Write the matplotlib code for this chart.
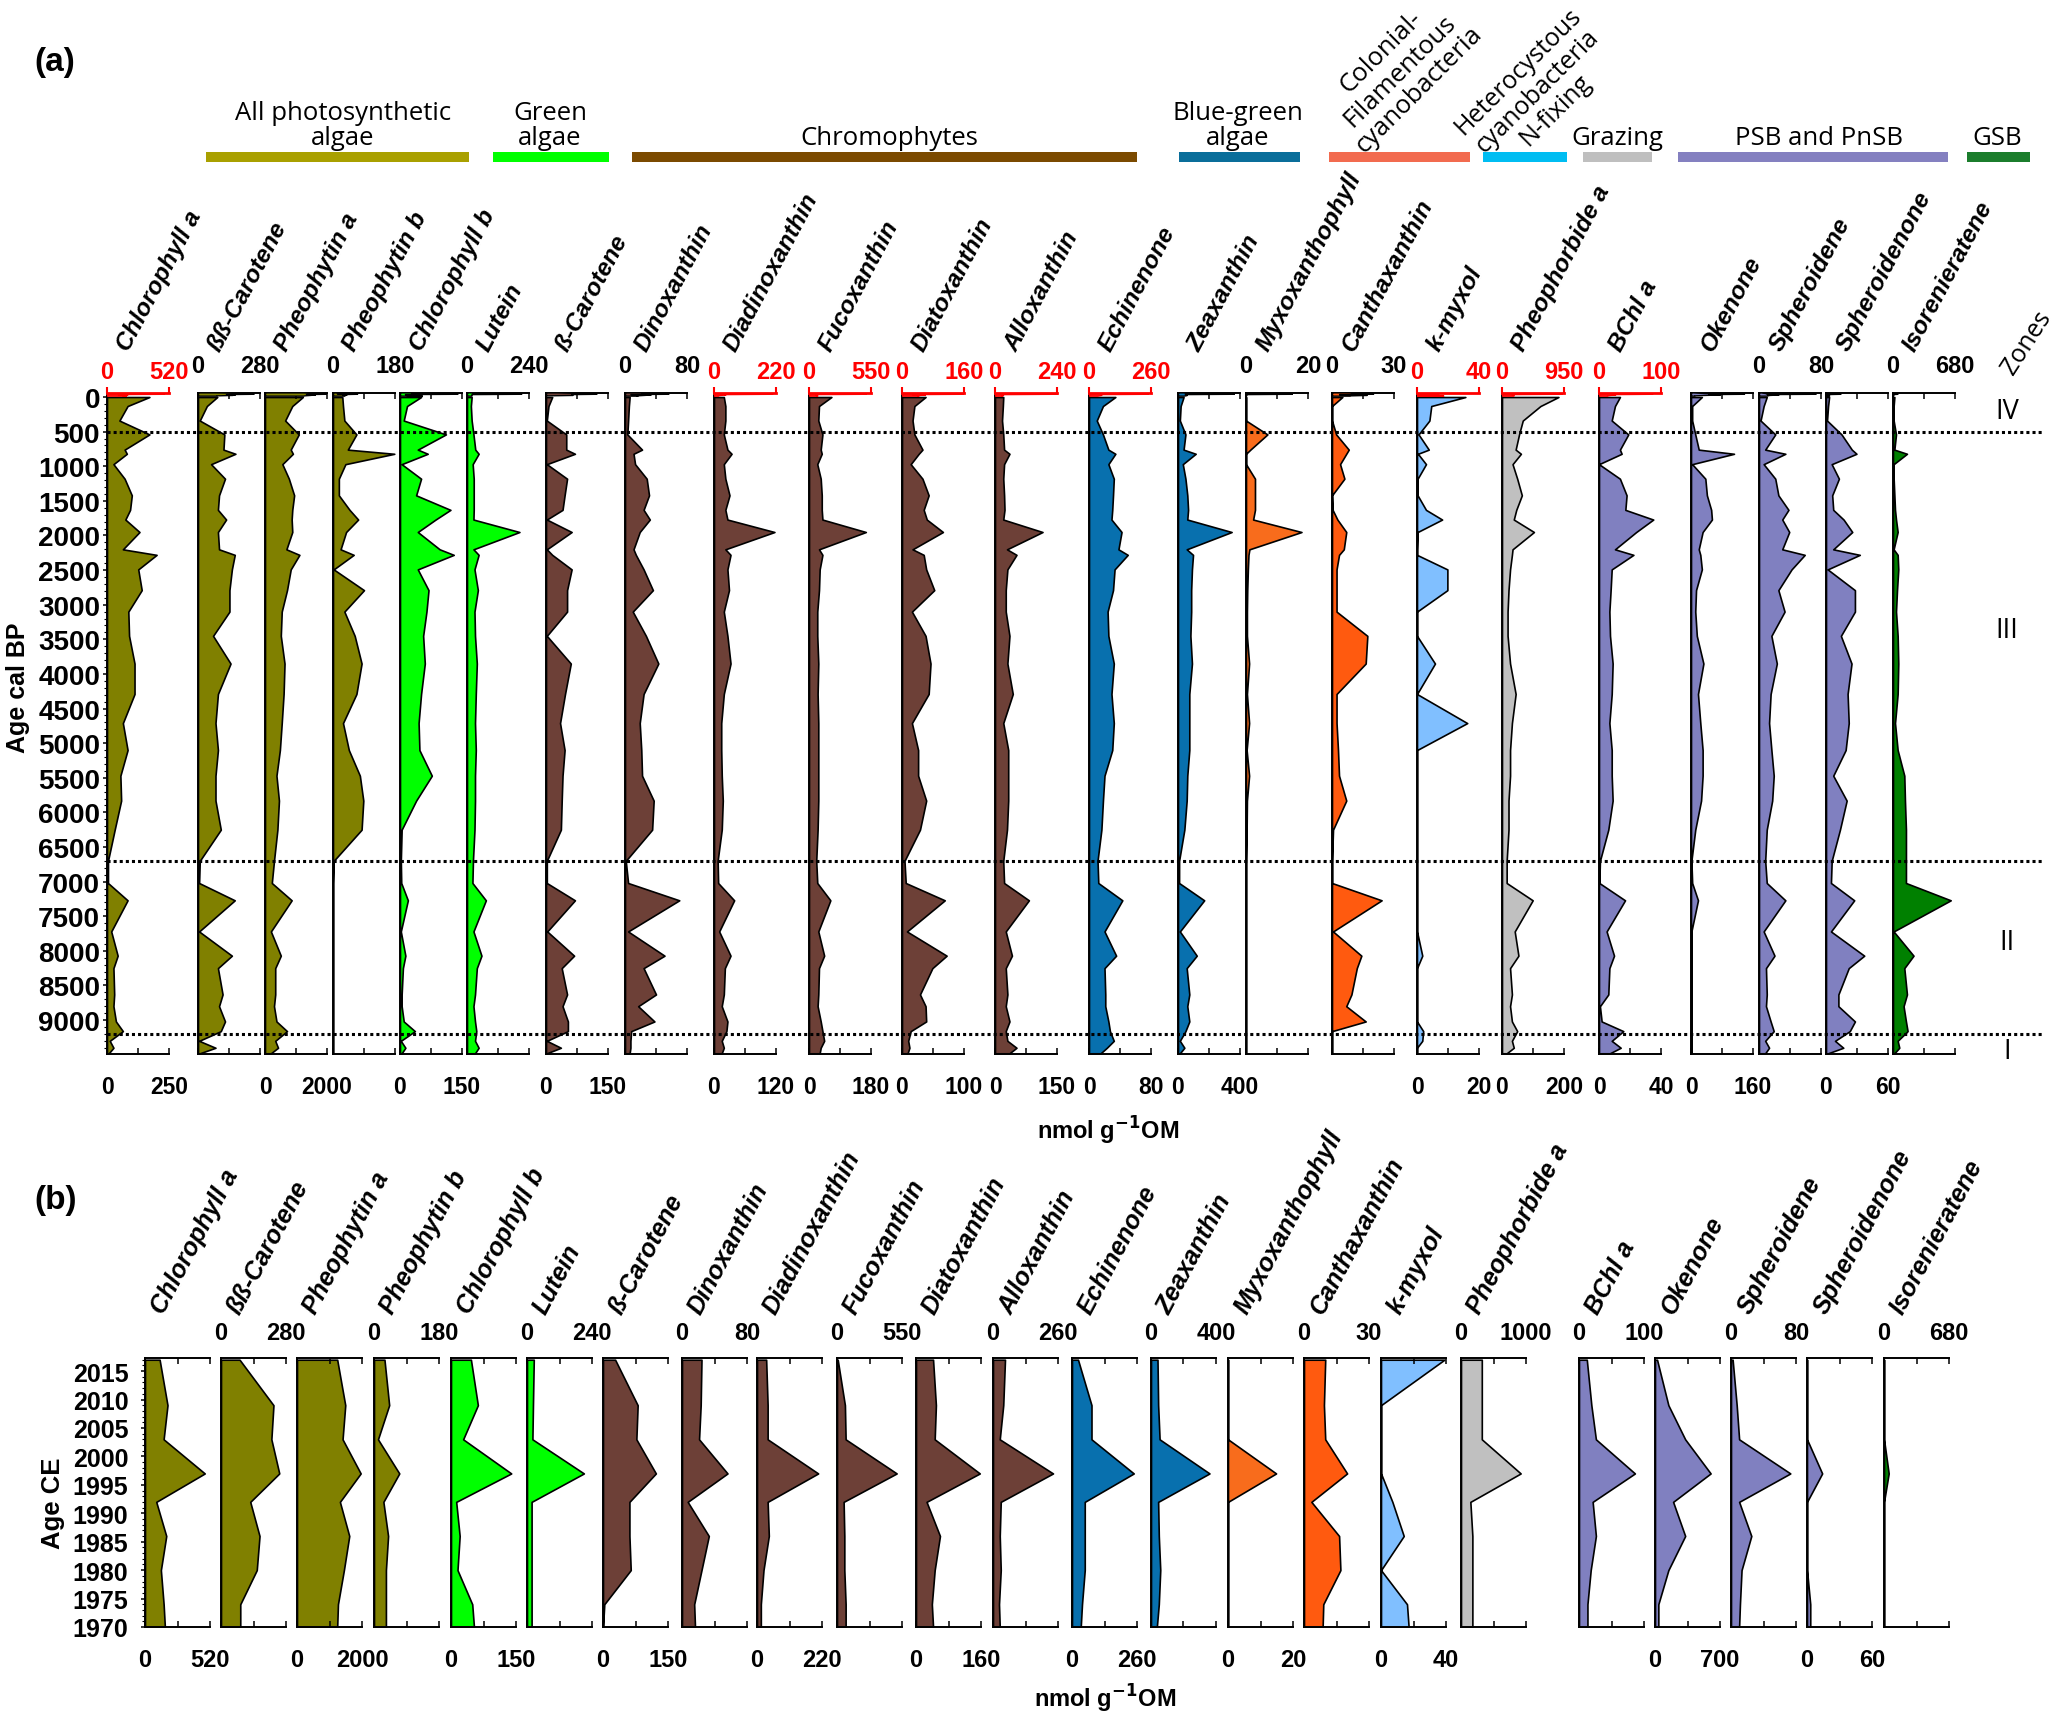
import matplotlib
matplotlib.use("Agg")
import matplotlib.pyplot as plt
import matplotlib.transforms as mtransforms
from matplotlib.lines import Line2D
from matplotlib.patches import Rectangle
from matplotlib.ticker import MultipleLocator

plt.rcParams['font.family'] = ['Liberation Sans', 'DejaVu Sans']
plt.rcParams['axes.linewidth'] = 1.4

# ---------------- (a) Holocene record, nmol g-1 OM ----------------
ages_bp = [0, 130, 340, 540, 760, 820, 970, 1180, 1420, 1630, 1770, 1950, 2200, 2280,
           2490, 2790, 3100, 3450, 3850, 4290, 4710, 5100, 5470, 5830, 6250, 6700,
           7020, 7270, 7720, 8070, 8250, 8630, 8800, 9020, 9160, 9300, 9400, 9480]

a_chl_a = [171, 83, 50, 171, 71, 80, 26, 71, 100, 93, 74, 131, 64, 200, 126, 140, 86, 89, 111,
           111, 64, 83, 54, 57, 31, 4, 4, 83, 17, 43, 26, 29, 26, 36, 64, 11, 26, 7]
a_bb_car = [87, 40, 8, 119, 115, 169, 59, 122, 95, 90, 127, 90, 95, 166, 153, 142, 142, 68, 147,
            90, 79, 90, 79, 79, 103, 8, 5, 166, 5, 153, 90, 111, 95, 122, 103, 5, 79, 8]
a_pheo_a = [1220, 880, 650, 1090, 830, 900, 560, 770, 940, 880, 860, 880, 690, 1110, 830, 710,
            540, 510, 630, 600, 540, 480, 370, 450, 400, 290, 220, 860, 190, 510, 330, 330,
            290, 370, 710, 330, 420, 190]
a_pheo_b = [27, 29, 33, 68, 43, 178, 36, 17, 17, 48, 73, 38, 22, 60, 2, 90, 33, 63, 83, 68, 29,
            46, 78, 88, 83, 2, 0, 0, 0, 0, 0, 0, 0, 0, 0, 0, 0, 0]
a_chl_b = [51, 17, 9, 111, 43, 67, 4, 51, 39, 122, 86, 43, 96, 130, 43, 69, 64, 56, 60, 51, 45,
           47, 77, 39, 4, 2, 3, 19, 2, 13, 7, 4, 4, 9, 36, 2, 13, 4]
a_lutein = [18, 15, 18, 25, 32, 45, 22, 26, 26, 26, 25, 203, 25, 45, 29, 42, 29, 31, 38, 34, 31,
            34, 31, 31, 29, 23, 21, 73, 25, 56, 38, 31, 25, 31, 36, 31, 45, 31]
a_b_car = [15, 6, 2, 49, 49, 70, 2, 51, 45, 40, 2, 62, 2, 15, 62, 51, 51, 2, 60, 46, 34, 45, 40,
           38, 36, 2, 2, 70, 3, 68, 38, 51, 40, 53, 53, 2, 36, 2]
a_dinox = [6, 5, 4, 3, 22, 11, 13, 28, 31, 24, 32, 19, 11, 14, 24, 36, 10, 27, 43, 24, 19, 21,
           22, 37, 35, 1, 4, 70, 4, 51, 24, 40, 17, 38, 8, 7, 7, 6]
a_diadino = [19, 22, 22, 19, 26, 34, 19, 22, 30, 22, 26, 117, 22, 32, 26, 29, 19, 26, 32, 19,
             14, 14, 15, 17, 15, 7, 8, 39, 10, 32, 21, 19, 15, 26, 24, 15, 19, 15]
a_fuco = [65, 29, 27, 39, 34, 37, 24, 34, 37, 37, 39, 165, 29, 39, 31, 29, 24, 24, 27, 25, 27,
          27, 27, 27, 25, 21, 24, 62, 27, 44, 29, 27, 25, 34, 39, 44, 34, 31]
a_diato = [38, 20, 17, 20, 33, 27, 14, 33, 43, 35, 40, 66, 17, 35, 39, 52, 16, 38, 46, 43, 16,
           26, 26, 39, 29, 4, 6, 69, 8, 72, 49, 29, 38, 39, 14, 10, 12, 9]
a_allox = [20, 19, 17, 20, 22, 35, 22, 20, 22, 23, 20, 115, 29, 52, 30, 26, 26, 35, 30, 43, 20,
           32, 32, 32, 29, 20, 22, 82, 26, 41, 26, 30, 26, 35, 26, 30, 52, 35]
a_echin = [34, 18, 10, 18, 25, 34, 25, 32, 31, 30, 29, 42, 38, 50, 33, 31, 24, 25, 32, 29, 32,
           30, 20, 18, 16, 11, 12, 43, 20, 35, 20, 21, 21, 25, 27, 32, 23, 15]
a_zeax = [36, 17, 12, 48, 36, 114, 31, 48, 60, 65, 60, 346, 56, 97, 90, 85, 85, 80, 90, 73, 73,
          73, 60, 56, 41, 7, 7, 169, 12, 121, 56, 73, 60, 73, 48, 12, 41, 12]
a_myxo = [0, 0, 0, 6.9, 1.4, 0, 0, 2.9, 2.9, 2.9, 2.3, 17.9, 1.1, 0.8, 0.6, 0.4, 0.3, 0.3, 1.0,
          0.3, 1.0, 0.2, 1.0, 0.3, 0.2, 0, 0, 0, 0, 0, 0, 0, 0, 0, 0, 0, 0, 0]
a_cantha = [5, 0, 0, 2, 8.1, 6.9, 3.9, 6.0, 0, 0.3, 2.6, 6.9, 5.7, 3.4, 2.2, 2.2, 2.2, 17.1,
            16.3, 2.2, 2.2, 2.9, 3.4, 6.9, 0.5, 0, 0, 24, 0.5, 14.2, 12, 9.4, 6.9, 16.3, 0, 0, 0, 0]
a_kmyxol = [15.6, 4.6, 4, 0.5, 3.8, 0.3, 2.9, 0.2, 0.2, 2.9, 8.1, 0.2, 0, 0, 9.8, 9.8, 0, 0, 5.8,
            0, 16.2, 0, 0, 0, 0, 0, 0, 0, 0, 1.7, 0, 0, 0, 0, 2, 1.7, 0, 0]
a_pheophorbide = [182, 124, 67, 55, 44, 61, 34, 49, 64, 46, 38, 103, 34, 32, 26, 21, 18, 18, 26,
                  44, 32, 26, 26, 21, 21, 15, 15, 99, 41, 53, 26, 32, 26, 32, 49, 32, 38, 15]
a_bchl_a = [13.5, 10.3, 8.2, 18.9, 13.5, 14.6, 0, 13.5, 17.8, 17, 35, 24, 10.3, 22.2, 8.2, 7.5,
            6.7, 7.1, 8.8, 8.2, 6.7, 8.2, 8.2, 8.8, 6, 0.6, 0.2, 16.8, 4.9, 9.7, 6.7, 6, 0.6,
            1.7, 15.7, 8.2, 14, 7]
a_okenone = [28, 3, 3, 11, 20, 111, 3, 37, 41, 52, 54, 30, 20, 24, 28, 13, 11, 15, 32, 18, 24,
             30, 30, 26, 11, 1, 3, 18, 1, 1, 1, 1, 1, 1, 1, 1, 1, 1]
a_spheroidene = [10, 6, 2, 21, 8, 34, 6, 21, 25, 38, 30, 39, 30, 59, 42, 25, 33, 16, 23, 15, 13,
                 16, 19, 17, 10, 8, 10, 34, 6, 20, 9, 10, 9, 15, 19, 8, 13, 8]
a_spheroidenone = [3, 2, 1, 15, 25, 29.5, 5.5, 12.5, 6, 7, 17, 25.4, 7, 32.7, 1.6, 28, 28, 14.4,
                   24.7, 20.9, 22, 19, 7, 20, 13.5, 5.5, 4.8, 27.3, 4.8, 37, 22, 12, 12, 28, 23,
                   8.7, 16.7, 2]
a_iso = [15, 7, 7, 33, 15, 153, 7, 7, 15, 22, 33, 51, 7, 51, 58, 44, 33, 51, 58, 51, 22, 51, 124,
         131, 142, 142, 142, 633, 7, 225, 124, 153, 116, 142, 160, 51, 69, 15]

# ---------------- (b) recent record, nmol g-1 OM ----------------
years_ce = [1970, 1974, 1980, 1986, 1992, 1997, 2003, 2009, 2017]

b_chl_a = [159, 149, 127, 170, 90, 478, 149, 180, 117]
b_bb_car = [83, 83, 154, 166, 126, 251, 217, 226, 80]
b_pheo_a = [1237, 1260, 1443, 1608, 1320, 1959, 1402, 1485, 1237]
b_pheo_b = [33, 33, 33, 39, 26, 70, 11, 42, 29]
b_chl_b = [53, 49, 15, 20, 12, 139, 28, 62, 46]
b_lutein = [17, 17, 17, 17, 17, 210, 20, 22, 25]
b_b_car = [0, 3, 64, 61, 61, 122, 77, 80, 28]
b_dinox = [16, 15, 24, 33, 7, 56, 21, 23, 24]
b_diadino = [13, 13, 22, 40, 36, 207, 36, 36, 31]
b_fuco = [73, 73, 62, 62, 56, 505, 73, 67, 6]
b_diato = [42, 39, 46, 59, 26, 157, 46, 49, 42]
b_allox = [27, 24, 31, 27, 31, 240, 27, 41, 48]
b_echin = [35, 40, 51, 51, 51, 247, 78, 78, 24]
b_zeax = [36, 48, 57, 48, 44, 360, 53, 44, 40]
b_myxo = [0, 0, 0, 0, 0, 14.8, 0, 0, 0]
b_cantha = [8.6, 8.9, 16.8, 16.2, 3.4, 19.9, 9.8, 9.2, 9.8]
b_kmyxol = [17, 16, 0, 14, 7, 0, 0, 0, 39]
b_pheophorbide = [175, 175, 175, 175, 144, 918, 320, 320, 320]
b_bchl_a = [13, 13, 18, 26, 21, 86, 26, 19, 12]
b_okenone = [36, 36, 144, 325, 195, 599, 325, 144, 22]
b_spheroidene = [10, 11, 13, 25, 10, 73, 10, 7, 2]
b_spheroidenone = [3, 3, 0, 0, 0, 14, 0, 0, 0]
b_iso = [0, 0, 0, 0, 0, 49, 0, 0, 0]

pigments = ['Chlorophyll a', 'ßß-Carotene', 'Pheophytin a', 'Pheophytin b', 'Chlorophyll b',
            'Lutein', 'ß-Carotene', 'Dinoxanthin', 'Diadinoxanthin', 'Fucoxanthin',
            'Diatoxanthin', 'Alloxanthin', 'Echinenone', 'Zeaxanthin', 'Myxoxanthophyll',
            'Canthaxanthin', 'k-myxol', 'Pheophorbide a', 'BChl a', 'Okenone', 'Spheroidene',
            'Spheroidenone', 'Isorenieratene']

# axis maxima and which side carries the numbers
a_scale = [250, 280, 2000, 180, 150, 240, 150, 80, 120, 180, 100, 150, 80, 400, 20, 30, 20, 200,
           40, 160, 80, 60, 680]
a_side = ['bottom', 'top', 'bottom', 'top', 'bottom', 'top', 'bottom', 'top', 'bottom', 'bottom',
          'bottom', 'bottom', 'bottom', 'bottom', 'top', 'top', 'bottom', 'bottom', 'bottom',
          'bottom', 'top', 'bottom', 'top']
a_red_scale = [520, None, None, None, None, None, None, None, 220, 550, 160, 240, 260, None, None,
               None, 40, 950, 100, None, None, None, None]
b_scale = [520, 280, 2000, 180, 150, 240, 150, 80, 220, 550, 160, 260, 260, 400, 20, 30, 40, 1000,
           100, 700, 80, 60, 680]
b_side = ['bottom', 'top', 'bottom', 'top', 'bottom', 'top', 'bottom', 'top', 'bottom', 'top',
          'bottom', 'top', 'bottom', 'top', 'bottom', 'top', 'bottom', 'top', 'top', 'bottom',
          'top', 'bottom', 'top']

a_values = [a_chl_a, a_bb_car, a_pheo_a, a_pheo_b, a_chl_b, a_lutein, a_b_car, a_dinox, a_diadino,
            a_fuco, a_diato, a_allox, a_echin, a_zeax, a_myxo, a_cantha, a_kmyxol, a_pheophorbide,
            a_bchl_a, a_okenone, a_spheroidene, a_spheroidenone, a_iso]
b_values = [b_chl_a, b_bb_car, b_pheo_a, b_pheo_b, b_chl_b, b_lutein, b_b_car, b_dinox, b_diadino,
            b_fuco, b_diato, b_allox, b_echin, b_zeax, b_myxo, b_cantha, b_kmyxol, b_pheophorbide,
            b_bchl_a, b_okenone, b_spheroidene, b_spheroidenone, b_iso]

# ---------------- styling ----------------
OLIVE, GREEN, BROWN, BLUE = '#808000', '#00ff00', '#6d4037', '#0870ae'
MYXO, CANTHA, KMYX, GREY, PURPLE, GSB = '#f86c1c', '#ff5a0f', '#80bfff', '#c0c0c0', '#8080c0', '#008000'
fills = [OLIVE] * 4 + [GREEN] * 2 + [BROWN] * 6 + [BLUE] * 2 + [MYXO, CANTHA, KMYX, GREY] + [PURPLE] * 4 + [GSB]
SANS2 = ['Open Sans', 'DejaVu Sans']

a_left = [107, 198, 265, 333, 400, 467, 546, 625, 714, 809, 902, 995, 1089, 1178, 1246, 1332, 1417,
          1502, 1599, 1691, 1759, 1826, 1893]
b_left = [145, 221, 297, 374, 451, 527, 603, 682, 757, 837, 916, 993, 1072, 1151, 1228, 1304, 1381,
          1461, 1579, 1655, 1731, 1807, 1884]

W, H = 2067, 1715
fig = plt.figure(figsize=(W / 100, H / 100), dpi=100)


def fx(x):
    return x / W


def fy(y):
    return 1 - y / H


def add_ax(left, top, bottom, width):
    return fig.add_axes([fx(left), fy(bottom), width / W, (bottom - top) / H])


def fmt(v):
    return f'{v:g}'


def set_scale(ax, vmax, side, size, pad, top_ticks=True):
    ax.set_xlim(0, vmax)
    ax.set_xticks([0, vmax / 2, vmax])
    ax.set_xticklabels(['0', '', fmt(vmax)], fontweight='bold')
    ax.tick_params(axis='x', direction='in', length=4, width=1.1, top=top_ticks, bottom=True,
                   labeltop=(side == 'top'), labelbottom=(side == 'bottom'),
                   labelsize=size, pad=pad)
    ax.spines['right'].set_visible(False)
    ax.set_facecolor('none')


# ---------------- panel (a) ----------------
a_top, a_bot = 393.6, 1055
axes_a = []
recent_ages = [1950 - y for y in years_ce]
for i in range(23):
    ax = add_ax(a_left[i], a_top, a_bot, 62)
    axt = ax.twiny()
    red = a_red_scale[i] is not None
    ax.fill_betweenx(ages_bp, 0, a_values[i], facecolor=fills[i], edgecolor='black', lw=1.2)
    ax.set_ylim(9490, -64)
    if a_side[i] == 'top':
        set_scale(ax, a_scale[i], 'top', 17, 11, top_ticks=True)
    else:
        set_scale(ax, a_scale[i], 'bottom', 16.5, 15, top_ticks=not red)
    if red:
        ax.spines['top'].set_visible(False)
    rmax = a_red_scale[i] if red else b_scale[i]
    axt.set_xlim(0, rmax)
    axt.set_ylim(9490, -64)
    if red:
        axt.fill_betweenx(recent_ages, 0, b_values[i], facecolor='#ff2020', edgecolor='red', lw=1)
        axt.set_xticks([0, rmax])
        axt.set_xticklabels(['0', fmt(rmax)], fontweight='bold')
        axt.tick_params(axis='x', colors='red', direction='out', length=4, width=1.5,
                        labelsize=17, pad=3)
        for s in ['left', 'right', 'bottom']:
            axt.spines[s].set_visible(False)
        axt.spines['top'].set_color('red')
        axt.spines['top'].set_linewidth(2)
    else:
        axt.fill_betweenx(recent_ages, 0, b_values[i], facecolor=fills[i], edgecolor='black', lw=1)
        axt.set_axis_off()
    if i == 0:
        ax.set_yticks(range(0, 9001, 500))
        ax.set_yticklabels([str(v) for v in range(0, 9001, 500)], fontweight='bold')
        ax.yaxis.set_minor_locator(MultipleLocator(100))
        ax.tick_params(axis='y', which='major', direction='out', length=3, width=1.1,
                       labelsize=20, pad=2)
        ax.tick_params(axis='y', which='minor', direction='out', length=2, width=0.8)
    else:
        ax.tick_params(axis='y', which='both', left=False, labelleft=False)
    axes_a.append(ax)

    fig.text(fx(a_left[i] + 22), fy(353), pigments[i], rotation=62, rotation_mode='anchor',
             ha='left', va='baseline', fontsize=17.5, fontweight='bold', fontstyle='italic')

# zone boundaries and labels
trans_a = mtransforms.blended_transform_factory(fig.transFigure, axes_a[0].transData)
for age in [500, 6700, 9200]:
    fig.add_artist(Line2D([fx(107), fx(2044)], [age, age], transform=trans_a, color='black',
                          lw=2.2, ls=(0, (1, 1)), zorder=10))
for lab, age in [('IV', 200), ('III', 3370), ('II', 7870), ('I', 9450)]:
    fig.text(fx(2007), age, lab, transform=trans_a, ha='center', va='center', fontsize=19.5,
             family=SANS2)
fig.text(fx(2027), fy(343), 'Zones', rotation=57, ha='center', va='center', fontsize=18,
         family=SANS2)

fig.text(fx(18), fy(688), 'Age cal BP', rotation=90, ha='center', va='center', fontsize=18,
         fontweight='bold')
fig.text(fx(1108), fy(1131), r'nmol g$^{\mathbf{-1}}$OM', ha='center', va='center', fontsize=17,
         fontweight='bold')
fig.text(fx(55), fy(63), '(a)', ha='center', va='center', fontsize=24, fontweight='bold')

# functional group bars
group_bars = [(206, 469, '#a9a000'), (493, 609, '#00ff00'), (632, 1137, '#7b4a00'),
              (1179, 1300, '#0a6e9a'), (1329, 1470, '#f26b4f'), (1483, 1567, '#00bdf2'),
              (1583, 1652, '#bfbfbf'), (1678, 1948, '#8480c0'), (1967, 2030, '#1b7d2c')]
for x0, x1, c in group_bars:
    fig.add_artist(Rectangle((fx(x0), fy(163)), (x1 - x0) / W, 10 / H, transform=fig.transFigure,
                             facecolor=c, edgecolor='none'))
group_labels = [('All photosynthetic\nalgae', 343), ('Green\nalgae', 550), ('Chromophytes', 889),
                ('Blue-green\nalgae', 1238), ('Grazing', 1617), ('PSB and PnSB', 1819),
                ('GSB', 1997)]
for txt, x in group_labels:
    fig.text(fx(x), fy(151), txt, ha='center', va='bottom', fontsize=18.5, linespacing=1.0,
             family=SANS2)

# slanted group labels, one text per line so each stays inside the figure
slanted = [('Colonial-', 1381, 52, 18.5), ('Filamentous', 1400, 71, 18.5),
           ('cyanobacteria', 1419, 90, 18.5),
           ('Heterocystous', 1518, 72, 18), ('cyanobacteria', 1537, 91, 18),
           ('N-fixing', 1556, 110, 18)]
for txt, x, y, fs in slanted:
    fig.text(fx(x), fy(y), txt, rotation=45, ha='center', va='center', fontsize=fs,
             family=SANS2)

# ---------------- panel (b) ----------------
b_top, b_bot = 1359, 1628
for i in range(23):
    ax = add_ax(b_left[i], b_top, b_bot, 65)
    ax.fill_betweenx(years_ce, 0, b_values[i], facecolor=fills[i], edgecolor='black', lw=1.2)
    ax.set_ylim(1970, 2017.3)
    set_scale(ax, b_scale[i], b_side[i], 17, 10 if b_side[i] == 'top' else 15)
    if i == 0:
        ax.set_yticks(range(1970, 2016, 5))
        ax.set_yticklabels([str(v) for v in range(1970, 2016, 5)], fontweight='bold')
        ax.yaxis.set_minor_locator(MultipleLocator(1))
        ax.tick_params(axis='y', which='major', direction='out', length=3, width=1.1,
                       labelsize=18, pad=9)
        ax.tick_params(axis='y', which='minor', direction='out', length=2, width=0.8)
    else:
        ax.tick_params(axis='y', which='both', left=False, labelleft=False)

    fig.text(fx(b_left[i] + 19), fy(1316), pigments[i], rotation=62, rotation_mode='anchor',
             ha='left', va='baseline', fontsize=18, fontweight='bold', fontstyle='italic')

fig.text(fx(53), fy(1503), 'Age CE', rotation=90, ha='center', va='center', fontsize=18.5,
         fontweight='bold')
fig.text(fx(1105), fy(1699), r'nmol g$^{\mathbf{-1}}$OM', ha='center', va='center', fontsize=17,
         fontweight='bold')
fig.text(fx(56), fy(1201), '(b)', ha='center', va='center', fontsize=24, fontweight='bold')

fig.savefig('out.png', dpi=100)
